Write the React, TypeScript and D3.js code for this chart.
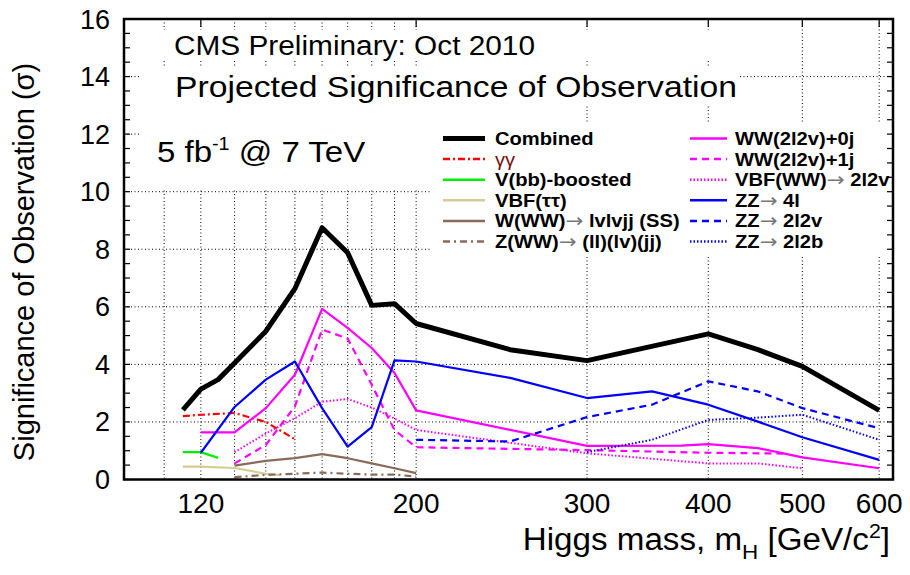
import React from "react";
import * as d3 from "d3";

// ---------- data (mass in GeV, significance in sigma) ----------
const combined: [number, number][] = [
  [115, 2.42], [120, 3.14], [125, 3.47], [130, 4.05], [140, 5.15], [150, 6.63],
  [160, 8.75], [170, 7.88], [180, 6.05], [190, 6.11], [200, 5.42], [250, 4.51],
  [300, 4.13], [400, 5.06], [450, 4.51], [500, 3.93], [600, 2.4],
];
const gammaGamma: [number, number][] = [
  [115, 2.2], [120, 2.25], [130, 2.31], [140, 2.0], [150, 1.4],
];
const vbbBoosted: [number, number][] = [[115, 0.95], [120, 0.95], [125, 0.75]];
const vbfTauTau: [number, number][] = [
  [115, 0.45], [120, 0.45], [130, 0.4], [140, 0.2], [145, 0.15],
];
const wwwSS: [number, number][] = [
  [130, 0.48], [140, 0.65], [150, 0.74], [160, 0.88], [170, 0.74], [180, 0.56],
  [190, 0.39], [200, 0.22],
];
const zwwLLLVJJ: [number, number][] = [
  [130, 0.08], [140, 0.16], [150, 0.2], [160, 0.24], [170, 0.2], [180, 0.17],
  [190, 0.17], [200, 0.1],
];
const ww0j: [number, number][] = [
  [120, 1.64], [130, 1.64], [140, 2.48], [150, 3.64], [160, 5.93], [170, 5.27],
  [180, 4.57], [190, 3.7], [200, 2.4], [300, 1.17], [375, 1.18], [400, 1.23],
  [450, 1.09], [500, 0.77], [600, 0.39],
];
const ww1j: [number, number][] = [
  [130, 0.56], [140, 1.2], [150, 2.54], [160, 5.21], [170, 4.9], [180, 3.29],
  [190, 1.72], [200, 1.12], [300, 1.02], [400, 0.93], [480, 0.9],
];
const vbfWW: [number, number][] = [
  [130, 0.95], [140, 1.6], [150, 2.13], [160, 2.7], [170, 2.8], [180, 2.5],
  [190, 2.12], [200, 1.72], [300, 0.91], [400, 0.56], [450, 0.56], [500, 0.39],
];
const zz4l: [number, number][] = [
  [120, 0.93], [130, 2.52], [140, 3.47], [150, 4.1], [160, 2.48], [170, 1.14],
  [180, 1.82], [190, 4.14], [200, 4.1], [250, 3.53], [300, 2.83], [350, 3.06],
  [400, 2.6], [450, 2.01], [500, 1.47], [600, 0.68],
];
const zz2l2v: [number, number][] = [
  [200, 1.38], [250, 1.32], [300, 2.17], [350, 2.6], [400, 3.41], [450, 3.06],
  [500, 2.48], [600, 1.78],
];
const zz2l2b: [number, number][] = [
  [300, 0.95], [350, 1.38], [400, 2.07], [450, 2.15], [500, 2.25], [600, 1.38],
];

const xTickLabels = [120, 200, 300, 400, 500, 600];
const xGridValues = [110, 120, 130, 140, 150, 160, 170, 180, 190, 200, 300, 400, 500, 600];
const yTickLabels = [0, 2, 4, 6, 8, 10, 12, 14, 16];

type Series = {
  name: string;
  data: [number, number][];
  color: string;
  width: number;
  dash?: string;
  arrow?: [string, string];
  thin?: boolean;
};

const col1: Series[] = [
  { name: "Combined", data: combined, color: "#000000", width: 5 },
  { name: "γγ", data: gammaGamma, color: "#ff0000", width: 2.2, dash: "7,3,2,3", thin: true },
  { name: "V(bb)-boosted", data: vbbBoosted, color: "#00ee00", width: 2.2 },
  { name: "VBF(ττ)", data: vbfTauTau, color: "#d4cc96", width: 2.2 },
  { name: "W(WW)", arrow: ["W(WW)", " lvlvjj (SS)"], data: wwwSS, color: "#8c6a5a", width: 2.2 },
  { name: "Z(WW)", arrow: ["Z(WW)", " (ll)(lv)(jj)"], data: zwwLLLVJJ, color: "#8c6a5a", width: 2.2, dash: "7,4,2,4" },
];
const col2: Series[] = [
  { name: "WW(2l2v)+0j", data: ww0j, color: "#ff00ff", width: 2.2 },
  { name: "WW(2l2v)+1j", data: ww1j, color: "#ff00ff", width: 2.2, dash: "7,5" },
  { name: "VBF(WW)", arrow: ["VBF(WW)", " 2l2v"], data: vbfWW, color: "#ff00ff", width: 2, dash: "1.5,2" },
  { name: "ZZ4l", arrow: ["ZZ", " 4l"], data: zz4l, color: "#0000ff", width: 2.2 },
  { name: "ZZ2l2v", arrow: ["ZZ", " 2l2v"], data: zz2l2v, color: "#0000ff", width: 2.2, dash: "7,5" },
  { name: "ZZ2l2b", arrow: ["ZZ", " 2l2b"], data: zz2l2b, color: "#0000ff", width: 2, dash: "1.5,2" },
];

const W = 910;
const H = 575;
const left = 124;
const right = 893;
const top = 19;
const bottom = 479.5;
const font = "'Liberation Sans', Arial, Helvetica, sans-serif";
const arrowFont = "'DejaVu Sans', sans-serif";

export default function App() {
  const x = d3.scaleLog().domain([100, 620]).range([left, right]);
  const y = d3.scaleLinear().domain([0, 16]).range([bottom, top]);
  const line = d3
    .line<[number, number]>()
    .x((d) => x(d[0]))
    .y((d) => y(d[1]));

  const minorY = d3.range(0, 16.01, 0.5);
  const gridY = [2, 4, 6, 8, 10, 12, 14];
  const drawOrder = [...col1.slice(1), ...col2, col1[0]];

  const legendRow = (s: Series, i: number, lx0: number, lx1: number, tx: number) => {
    const yy = 138.5 + i * 20.6;
    return (
      <g key={s.name}>
        <line x1={lx0} x2={lx1} y1={yy} y2={yy} stroke={s.color}
          strokeWidth={s.name === "Combined" ? 5 : 2.5} strokeDasharray={s.dash} />
        <g transform={`translate(${tx},${yy + 6.5}) scale(1.12,1)`}>
          <text x={0} y={0} fontFamily={font} fontSize={18}
            fontWeight={s.thin ? "normal" : "bold"} fill={s.thin ? "#7a1010" : "#000"}>
            {s.arrow ? (
              <>
                {s.arrow[0]}
                <tspan fill="#777" fontWeight="normal" fontFamily={arrowFont} fontSize={19}>→</tspan>
                {s.arrow[1]}
              </>
            ) : (
              s.name
            )}
          </text>
        </g>
      </g>
    );
  };

  return (
    <svg width={W} height={H} style={{ position: "absolute", left: 0, top: 0, background: "#fff" }}>
      <rect x={0} y={0} width={W} height={H} fill="#fff" />
      {/* grid */}
      {xGridValues.map((v) => (
        <line key={"gx" + v} x1={x(v)} x2={x(v)} y1={top} y2={bottom}
          stroke="#000" strokeWidth={1} strokeDasharray="1,2.5" />
      ))}
      {gridY.map((v) => (
        <line key={"gy" + v} x1={left} x2={right} y1={y(v)} y2={y(v)}
          stroke="#000" strokeWidth={1} strokeDasharray="1,2.5" />
      ))}
      {/* white boxes behind text */}
      <rect x={140} y={30} width={600} height={31} fill="#fff" />
      <rect x={140} y={67} width={600} height={38} fill="#fff" />
      <rect x={140} y={105} width={290} height={83} fill="#fff" />
      <rect x={432} y={123} width={459} height={133} fill="#fff" />

      {/* series */}
      {drawOrder.map((s) => (
        <path key={"p" + s.name} d={line(s.data) || ""} fill="none" stroke={s.color}
          strokeWidth={s.width} strokeDasharray={s.dash} strokeLinejoin="round" />
      ))}

      {/* frame */}
      <rect x={left} y={top} width={right - left} height={bottom - top} fill="none"
        stroke="#000" strokeWidth={2.5} />
      {minorY.map((v) => (
        <g key={"ty" + v}>
          <line x1={left} x2={left + 6} y1={y(v)} y2={y(v)} stroke="#000" strokeWidth={1.2} />
          <line x1={right} x2={right - 6} y1={y(v)} y2={y(v)} stroke="#000" strokeWidth={1.2} />
        </g>
      ))}
      {xTickLabels.map((v) => (
        <line key={"tx" + v} x1={x(v)} x2={x(v)} y1={top} y2={top + 8} stroke="#000" strokeWidth={1.2} />
      ))}

      {/* tick labels */}
      {yTickLabels.map((v) => (
        <text key={"ly" + v} x={110} y={y(v) + 9.5} textAnchor="end" fontFamily={font}
          fontSize={27} fill="#000">{v}</text>
      ))}
      {xTickLabels.map((v) => (
        <text key={"lx" + v} x={x(v)} y={513} textAnchor="middle" fontFamily={font}
          fontSize={28} fill="#000">{v}</text>
      ))}

      {/* axis titles */}
      <g transform="translate(890,550) scale(1.07,1)">
        <text x={0} y={0} textAnchor="end" fontFamily={font} fontSize={31} fill="#000">
          Higgs mass, m<tspan fontSize={21} dy={9}>H</tspan>
          <tspan dy={-9}> [GeV/c</tspan>
          <tspan fontSize={20} dy={-12}>2</tspan>
          <tspan dy={12}>]</tspan>
        </text>
      </g>
      <text transform="translate(34,262) rotate(-90)" textAnchor="middle" fontFamily={font}
        fontSize={29} fill="#000">Significance of Observation (σ)</text>

      {/* header texts */}
      <text x={174} y={55} fontFamily={font} fontSize={27} fill="#000" textLength={361}
        lengthAdjust="spacingAndGlyphs">CMS Preliminary: Oct 2010</text>
      <text x={175} y={97} fontFamily={font} fontSize={30} fill="#000" textLength={562}
        lengthAdjust="spacingAndGlyphs">Projected Significance of Observation</text>
      <g transform="translate(157,162) scale(1.1,1)">
        <text x={0} y={0} fontFamily={font} fontSize={30} fill="#000">
          5 fb<tspan fontSize={18} dy={-12}>-1</tspan>
          <tspan dy={12}> @ 7 TeV</tspan>
        </text>
      </g>

      {/* legend */}
      {col1.map((s, i) => legendRow(s, i, 443, 485, 495))}
      {col2.map((s, i) => legendRow(s, i, 690, 727, 735))}
    </svg>
  );
}
